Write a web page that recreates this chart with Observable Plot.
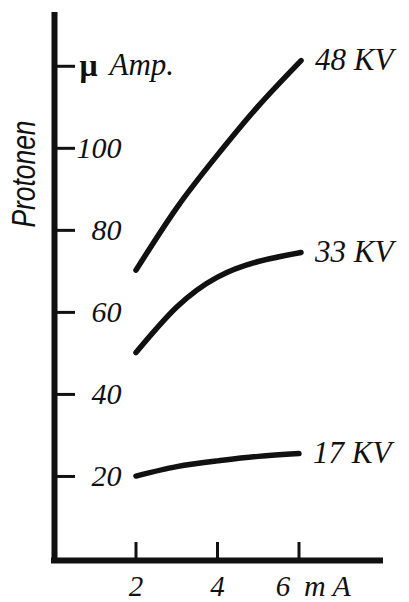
<!DOCTYPE html>
<html><head><meta charset="utf-8">
<script src="https://cdn.jsdelivr.net/npm/d3@7"></script>
<script src="https://cdn.jsdelivr.net/npm/@observablehq/plot@0.6"></script>
<style>body{margin:0;background:#fff}</style>
</head><body><div id="chart"></div>
<script>
// ---- data ----
const seriesNames = ["48 KV", "33 KV", "17 KV"];
const x48 = [2, 3, 4, 5, 6.05];
const y48 = [70.3, 85.5, 98.4, 110.3, 121.4];
const x33 = [2, 3, 4, 5, 6.05];
const y33 = [50.2, 61.3, 68.6, 72.4, 74.6];
const x17 = [2, 3, 4, 5, 6];
const y17 = [20.1, 22.4, 23.8, 24.9, 25.6];
const yTicks = [20, 40, 60, 80, 100, 120];
const yTickLabels = ["20", "40", "60", "80", "100", ""];
const xTicks = [2, 4, 6];
const xTickLabels = ["2", "4", "6"];
const yUnitSymbol = "μ";
const yUnitText = "Amp.";
const xUnit = "m A";
const yTitle = "Protonen";
const xDomain = [0, 8];
const yDomain = [0, 133.6];

const rows = [];
[[x48, y48], [x33, y33], [x17, y17]].forEach(([xs, ys], i) =>
  xs.forEach((x, j) => rows.push({series: seriesNames[i], x, y: ys[j]})));
const ends = seriesNames.map(s => rows.filter(r => r.series === s).at(-1));
const yt = yTicks.map((v, i) => ({v, label: yTickLabels[i]}));
const xt = xTicks.map((v, i) => ({v, label: xTickLabels[i]}));

const ink = "#111";
const serif = "Liberation Serif";
const W = 409, H = 602, mL = 54, mR = 29, mT = 10, mB = 44;
const plotW = W - mL - mR, plotH = H - mT - mB;

const chart = Plot.plot({
  width: W, height: H,
  marginLeft: mL, marginRight: mR, marginTop: mT, marginBottom: mB,
  x: {domain: xDomain, axis: null},
  y: {domain: yDomain, axis: null},
  style: {background: "#fff", fontFamily: serif, color: ink},
  marks: [
    Plot.ruleX([xDomain[0]], {y1: yDomain[0], y2: yDomain[1], stroke: ink, strokeWidth: 6, dy: 2}),
    Plot.ruleY([yDomain[0]], {x1: xDomain[0], x2: xDomain[1], stroke: ink, strokeWidth: 6, dy: 2, strokeLinecap: "square"}),
    Plot.tickY(yt, {y: "v", stroke: ink, strokeWidth: 3, insetRight: plotW - 21}),
    Plot.tickX(xt, {x: "v", stroke: ink, strokeWidth: 3, insetTop: plotH - 16}),
    Plot.text(yt, {x: () => xDomain[0], y: "v", text: "label", dx: 67, textAnchor: "end",
      fontSize: 30, fontStyle: "italic", fill: ink}),
    Plot.text([yTicks.at(-1)], {x: () => xDomain[0], y: d => d, text: () => yUnitSymbol, dx: 25, dy: -1,
      textAnchor: "start", fontWeight: "bold", fontSize: 32, fill: ink}),
    Plot.text([yTicks.at(-1)], {x: () => xDomain[0], y: d => d, text: () => yUnitText, dx: 55, dy: -1,
      textAnchor: "start", fontSize: 31, fontStyle: "italic", fill: ink}),
    Plot.text(xt.filter(d => d.v !== 6), {x: "v", y: () => yDomain[0], text: "label", dy: 28,
      fontSize: 29, fontStyle: "italic", fill: ink}),
    Plot.text(xt.filter(d => d.v === 6), {x: "v", y: () => yDomain[0], text: "label", dy: 28, dx: -16,
      fontSize: 29, fontStyle: "italic", fill: ink}),
    Plot.text([xTicks.at(-1)], {x: d => d, y: () => yDomain[0], text: () => xUnit, dy: 28, dx: 5,
      textAnchor: "start", fontSize: 30, fontStyle: "italic", fill: ink}),
    Plot.text([yTitle], {frameAnchor: "left", text: d => d, rotate: -90, dx: -30, dy: -57,
      textAnchor: "start", fontFamily: "Liberation Sans", fontStyle: "italic", fontSize: 34,
      fill: ink, className: "ytitle"}),
    Plot.line(rows, {x: "x", y: "y", z: "series", stroke: ink, strokeWidth: 5.5,
      curve: "natural", strokeLinecap: "round"}),
    Plot.text(ends, {x: "x", y: "y", text: "series", dx: 14, textAnchor: "start",
      fontSize: 31, fontStyle: "italic", fill: ink})
  ]
});
d3.select(chart).selectAll(".ytitle text")
  .attr("textLength", 107).attr("lengthAdjust", "spacingAndGlyphs");
document.getElementById("chart").appendChild(chart);
</script>
</body></html>
